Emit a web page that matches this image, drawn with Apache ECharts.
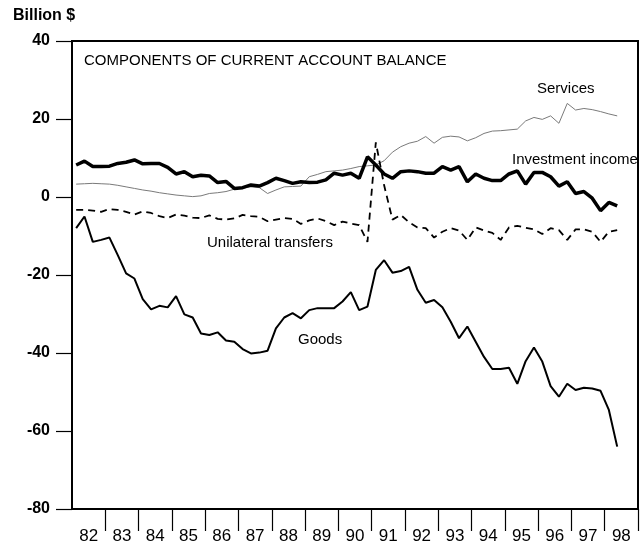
<!DOCTYPE html>
<html>
<head>
<meta charset="utf-8">
<script src="https://cdn.jsdelivr.net/npm/echarts@6/dist/echarts.min.js"></script>
<style>
  html, body { margin: 0; padding: 0; background: #fff; }
  #chart { width: 640px; height: 550px; }
</style>
</head>
<body>
<div id="chart"></div>
<script>
// Year labels along the bottom axis (1982-1998)
const yearLabels = ['82','83','84','85','86','87','88','89','90','91','92','93','94','95','96','97','98'];
// Quarterly categories, 1982Q1 .. 1998Q4
const quarterNames = ['Q1','Q2','Q3','Q4'];

// Billion $, quarterly from 1982Q1 to 1998Q2
const goods = [
  -8.0, -5.0, -11.5, -11.0, -10.4, -14.9, -19.6, -20.9,
  -26.2, -28.8, -27.9, -28.3, -25.4, -30.1, -30.9, -35.0,
  -35.4, -34.7, -36.8, -37.1, -39.0, -40.1, -39.9, -39.4,
  -33.7, -30.9, -29.8, -31.1, -29.0, -28.5, -28.5, -28.5,
  -26.8, -24.4, -29.0, -28.1, -18.7, -16.2, -19.4, -19.0,
  -17.9, -23.8, -27.1, -26.4, -28.3, -32.0, -36.2, -33.2,
  -37.1, -41.0, -44.1, -44.1, -43.8, -47.9, -42.1, -38.6,
  -42.2, -48.5, -51.2, -47.9, -49.5, -48.9, -49.1, -49.7,
  -54.6, -64.0
];
const services = [
  3.3, 3.4, 3.5, 3.4, 3.3, 3.0, 2.6, 2.2,
  1.8, 1.5, 1.1, 0.8, 0.5, 0.3, 0.1, 0.3,
  0.9, 1.1, 1.4, 2.0, 2.3, 2.6, 2.4, 0.9,
  1.8, 2.6, 2.7, 2.8, 5.2, 5.8, 6.5, 6.7,
  6.9, 7.3, 7.8, 8.0, 8.2, 9.3, 11.5, 12.9,
  13.8, 14.3, 15.5, 13.8, 15.3, 15.6, 15.4, 14.4,
  15.2, 16.3, 16.9, 17.0, 17.2, 17.4, 19.5, 20.4,
  19.9, 20.8, 18.9, 24.0, 22.3, 22.7, 22.4, 21.9,
  21.3, 20.8
];
const investmentIncome = [
  8.2, 9.2, 7.8, 7.8, 7.9, 8.6, 8.9, 9.5,
  8.5, 8.6, 8.6, 7.6, 5.9, 6.5, 5.2, 5.6,
  5.4, 3.7, 4.0, 2.2, 2.4, 3.1, 2.8, 3.7,
  4.8, 4.2, 3.5, 3.9, 3.7, 3.8, 4.4, 6.1,
  5.6, 6.1, 4.8, 10.3, 8.2, 5.9, 4.8, 6.5,
  6.7, 6.5, 6.1, 6.1, 7.8, 6.9, 7.8, 3.9,
  5.9, 4.8, 4.2, 4.2, 5.9, 6.7, 3.3, 6.3,
  6.3, 5.2, 2.8, 3.9, 0.9, 1.4, -0.3, -3.5,
  -1.4, -2.3
];
const unilateralTransfers = [
  -3.3, -3.3, -3.5, -3.8, -3.1, -3.3, -3.8, -4.5,
  -3.7, -4.1, -4.9, -5.4, -4.5, -4.8, -5.3, -5.4,
  -4.7, -5.6, -5.8, -5.5, -4.6, -4.9, -5.1, -6.2,
  -5.8, -5.4, -5.6, -6.9, -6.0, -5.5, -6.2, -7.2,
  -6.3, -6.8, -7.2, -11.5, 14.0, 3.0, -5.8, -4.6,
  -6.5, -7.8, -8.0, -10.4, -8.9, -8.0, -8.6, -11.0,
  -7.8, -8.6, -9.2, -11.0, -7.8, -7.4, -7.9, -8.3,
  -9.5, -8.0, -8.5, -11.0, -8.3, -8.3, -8.9, -11.5,
  -8.9, -8.5
];

const quarters = [];
yearLabels.forEach(y => quarterNames.forEach(q => quarters.push('19' + y + q)));

const FONT = '"Liberation Sans", Arial, Helvetica, sans-serif';

const chart = echarts.init(document.getElementById('chart'), null, { renderer: 'canvas' });

chart.setOption({
  animation: false,
  backgroundColor: '#fff',
  grid: {
    left: 72, right: 2, top: 41, bottom: 41,
    show: true, borderColor: '#000', borderWidth: 2, backgroundColor: 'transparent'
  },
  xAxis: [
    {
      type: 'category',
      data: quarters,
      boundaryGap: true,
      axisLine: { show: true, onZero: false, lineStyle: { color: '#000', width: 2 } },
      axisTick: { show: false },
      axisLabel: { show: false },
      splitLine: { show: false }
    },
    {
      type: 'category',
      data: yearLabels,
      boundaryGap: true,
      position: 'bottom',
      axisLine: { show: false, onZero: false },
      axisTick: {
        show: true, length: 22, inside: false,
        interval: (idx) => idx > 0,
        lineStyle: { color: '#000', width: 1.2 }
      },
      axisLabel: {
        show: true, interval: 0, margin: 19,
        fontFamily: FONT, fontSize: 17, color: '#000'
      },
      splitLine: { show: false }
    }
  ],
  yAxis: {
    type: 'value',
    min: -80, max: 40, interval: 20,
    axisLine: { show: true, lineStyle: { color: '#000', width: 2 } },
    axisTick: { show: true, length: 16, inside: false, lineStyle: { color: '#000', width: 1.2 } },
    axisLabel: { margin: 22, fontFamily: FONT, fontSize: 16, fontWeight: 'bold', color: '#000' },
    splitLine: { show: false }
  },
  series: [
    {
      name: 'Services', type: 'line', data: services, xAxisIndex: 0,
      symbol: 'none', lineStyle: { color: '#7a7a7a', width: 1 }, z: 2
    },
    {
      name: 'Unilateral transfers', type: 'line', data: unilateralTransfers, xAxisIndex: 0,
      symbol: 'none', lineStyle: { color: '#000', width: 1.8, type: [7, 5] }, z: 3
    },
    {
      name: 'Goods', type: 'line', data: goods, xAxisIndex: 0,
      symbol: 'none', lineStyle: { color: '#000', width: 2 }, z: 4
    },
    {
      name: 'Investment income', type: 'line', data: investmentIncome, xAxisIndex: 0,
      symbol: 'none', lineStyle: { color: '#000', width: 3.5 }, z: 5
    }
  ],
  graphic: [
    { type: 'text', style: { text: 'Billion $', x: 13, y: 16, font: 'bold 16px ' + FONT, fill: '#000', verticalAlign: 'middle' } },
    { type: 'text', style: { text: 'COMPONENTS OF CURRENT ACCOUNT BALANCE', x: 84, y: 61, font: '15px ' + FONT, fill: '#000', verticalAlign: 'middle' } },
    { type: 'text', style: { text: 'Services', x: 537, y: 89, font: '15px ' + FONT, fill: '#000', verticalAlign: 'middle' } },
    { type: 'text', style: { text: 'Investment income', x: 512, y: 160, font: '15px ' + FONT, fill: '#000', verticalAlign: 'middle' } },
    { type: 'text', style: { text: 'Unilateral transfers', x: 207, y: 243, font: '15px ' + FONT, fill: '#000', verticalAlign: 'middle' } },
    { type: 'text', style: { text: 'Goods', x: 298, y: 340, font: '15px ' + FONT, fill: '#000', verticalAlign: 'middle' } }
  ]
});
</script>
</body>
</html>
